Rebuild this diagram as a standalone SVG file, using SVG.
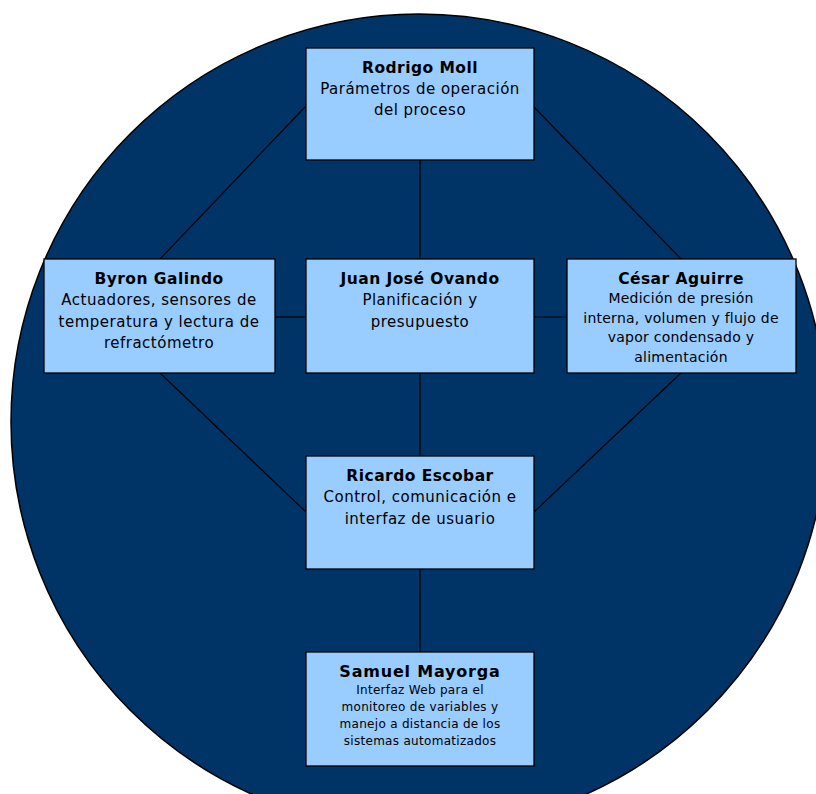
<svg xmlns="http://www.w3.org/2000/svg" width="816" height="794" viewBox="0 0 816 794">
<style>
.box{fill:#99ccff;stroke:#000;stroke-width:1.3}
.c{stroke:#000;stroke-width:1.2;fill:none}
text{font-family:"DejaVu Sans","Verdana",sans-serif;text-anchor:middle;fill:#000}
.t{font-weight:bold;font-size:15.5px;letter-spacing:0.45px}
.b{font-size:15px;letter-spacing:0.5px}
.s{font-size:14px;letter-spacing:0.25px}
.xs{font-size:12px;letter-spacing:0.3px}
.st{font-size:16px;letter-spacing:0.8px}
</style>
<rect width="816" height="794" fill="#fff"/>
<circle cx="419" cy="422" r="408" fill="#003366" stroke="#000" stroke-width="1.5"/>
<g id="connectors">
<line class="c" x1="420" y1="160" x2="420" y2="259"/>
<line class="c" x1="420" y1="373" x2="420" y2="456"/>
<line class="c" x1="420" y1="569" x2="420" y2="652"/>
<line class="c" x1="275" y1="317" x2="306" y2="317"/>
<line class="c" x1="533" y1="317" x2="567" y2="317"/>
<line class="c" x1="306" y1="106" x2="160" y2="259"/>
<line class="c" x1="533" y1="106" x2="681" y2="259"/>
<line class="c" x1="160" y1="373" x2="306" y2="512"/>
<line class="c" x1="681" y1="373" x2="534" y2="512"/>
</g>
<g id="rodrigo">
<rect class="box" x="306" y="48" width="228" height="112"/>
<text class="t" x="420" y="73">Rodrigo Moll</text>
<text class="b" x="420" y="94">Parámetros de operación</text>
<text class="b" x="420" y="115">del proceso</text>
</g>
<g id="byron">
<rect class="box" x="44" y="259" width="231" height="114"/>
<text class="t" x="159" y="284">Byron Galindo</text>
<text class="b" x="159" y="305">Actuadores, sensores de</text>
<text class="b" x="159" y="327">temperatura y lectura de</text>
<text class="b" x="159" y="348">refractómetro</text>
</g>
<g id="juan">
<rect class="box" x="306" y="259" width="228" height="114"/>
<text class="t" x="420" y="284">Juan José Ovando</text>
<text class="b" x="420" y="305">Planificación y</text>
<text class="b" x="420" y="327">presupuesto</text>
</g>
<g id="cesar">
<rect class="box" x="567" y="259" width="229" height="114"/>
<text class="t" x="681" y="284">César Aguirre</text>
<text class="s" x="681" y="303">Medición de presión</text>
<text class="s" x="681" y="323">interna, volumen y flujo de</text>
<text class="s" x="681" y="342">vapor condensado y</text>
<text class="s" x="681" y="362">alimentación</text>
</g>
<g id="ricardo">
<rect class="box" x="306" y="456" width="228" height="113"/>
<text class="t" x="420" y="481">Ricardo Escobar</text>
<text class="b" x="420" y="502">Control, comunicación e</text>
<text class="b" x="420" y="524">interfaz de usuario</text>
</g>
<g id="samuel">
<rect class="box" x="306" y="652" width="228" height="114"/>
<text class="t" x="420" y="677" style="font-size:16px;letter-spacing:0.8px">Samuel Mayorga</text>
<text class="xs" x="420" y="694">Interfaz Web para el</text>
<text class="xs" x="420" y="711">monitoreo de variables y</text>
<text class="xs" x="420" y="728">manejo a distancia de los</text>
<text class="xs" x="420" y="745">sistemas automatizados</text>
</g>
</svg>
